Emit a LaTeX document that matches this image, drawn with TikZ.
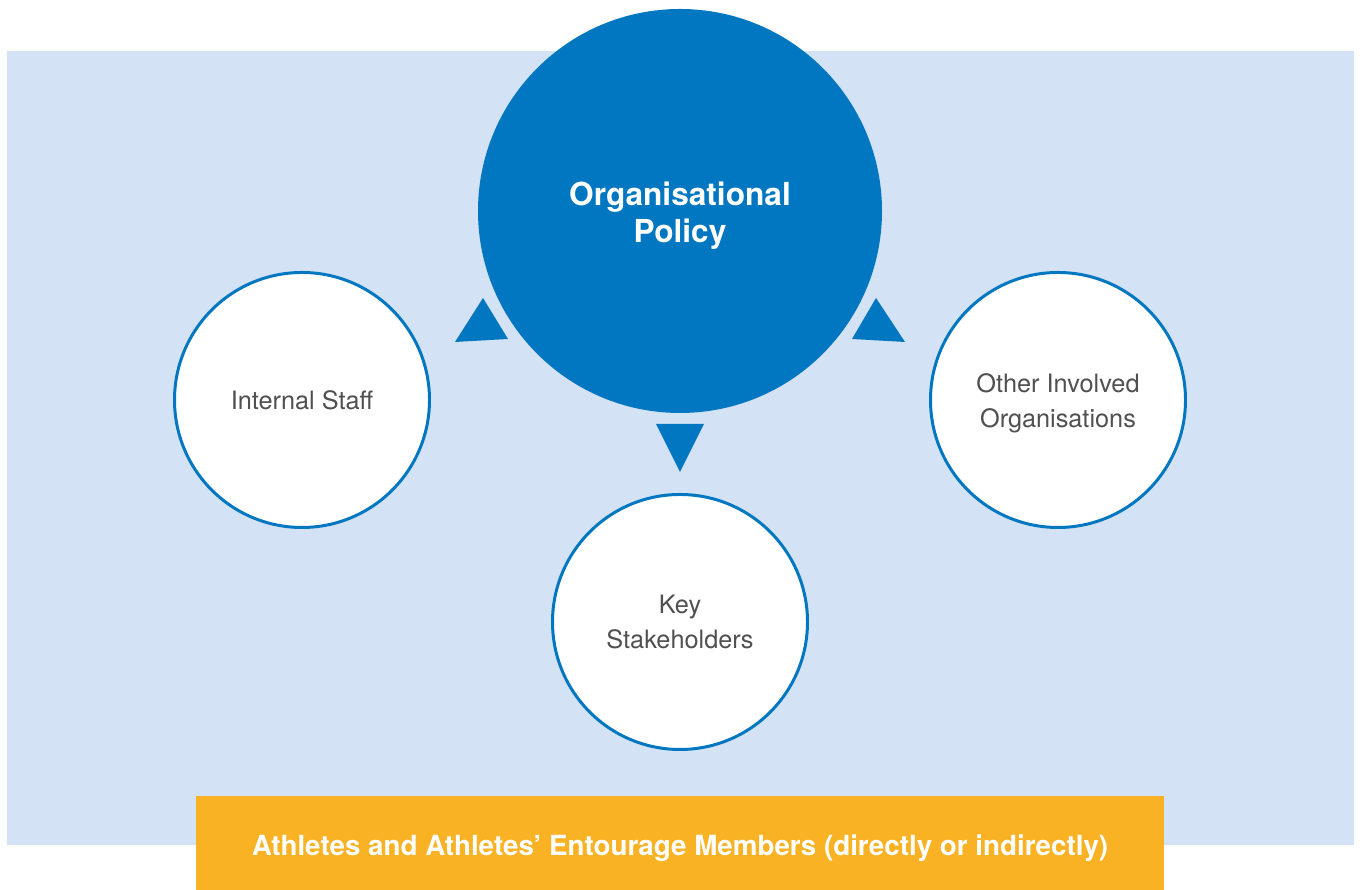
\documentclass[tikz,border=0pt]{standalone}
\usepackage{fontspec}
\setmainfont{TeX Gyre Heros}
\usepackage{tikz}
\definecolor{polblue}{HTML}{0077C0}
\definecolor{panelblue}{HTML}{D3E2F4}
\definecolor{barorange}{HTML}{F8B224}
\definecolor{labelgrey}{HTML}{505050}

\begin{document}
\begin{tikzpicture}[
		groupcircle/.style={circle, draw=polblue, line width=0.85pt, fill=white, minimum size=2.55cm, inner sep=0pt, align=center, text=labelgrey, font=\fontsize{7.2}{10}\selectfont},
		pointer/.style={fill=polblue}
	]
			%%%%% START %%%%%
			
			\useasboundingbox (0, 0) rectangle (13.62, 8.90);
			
			\fill[panelblue] (0.07, 0.45) rectangle (13.54, 8.39);
			
			\node[circle, fill=polblue, minimum size=4.04cm, inner sep=0pt] (policy) at (6.80, 6.79) {};
			\node[align=center, text=white, font=\fontsize{9}{10.6}\selectfont\bfseries] (policytext) at ([yshift=-0.045cm]policy.center) {Organisational\\Policy};
			
			\node[groupcircle] (staff) at (3.02, 4.90) {Internal Staff};
			\node[groupcircle] (others) at (10.58, 4.90) {};
			\node[align=center, text=labelgrey, font=\fontsize{7.2}{10}\selectfont] (otherstext) at ([yshift=-0.03cm]others.center) {Other Involved\\Organisations};
			\node[groupcircle] (stake) at (6.80, 2.68) {Key\\Stakeholders};
			
			\fill[pointer] (4.83, 5.92) -- (4.55, 5.48) -- (5.08, 5.51) -- cycle;
			\fill[pointer] (8.76, 5.92) -- (8.52, 5.51) -- (9.05, 5.48) -- cycle;
			\fill[pointer] (6.56, 4.66) -- (7.04, 4.66) -- (6.80, 4.18) -- cycle;
			
			\fill[barorange] (1.96, 0) rectangle (11.64, 0.94);
			\node[text=white, font=\fontsize{7.9}{9}\selectfont\bfseries] (athletes) at (6.80, 0.42) {Athletes and Athletes’ Entourage Members (directly or indirectly)};
			
			%%%%% END %%%%%
\end{tikzpicture}
\end{document}
